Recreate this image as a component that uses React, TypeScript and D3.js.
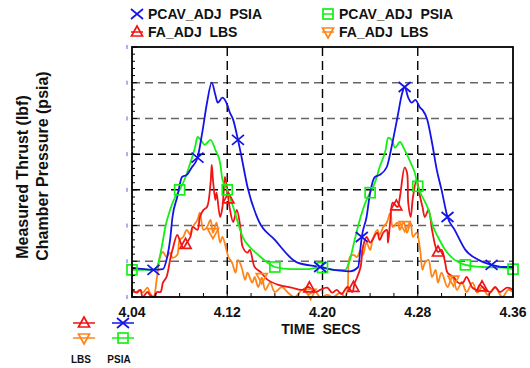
import React from "react";
import * as d3 from "d3";

type Pt = [number, number];

// [time (s), value]
const pcavBlue: Pt[] = [
  [4.04, 41], [4.058, 38], [4.066, 39], [4.069, 52], [4.072, 80], [4.074, 112], [4.078, 140],
  [4.082, 168], [4.086, 171], [4.09, 181], [4.095, 195], [4.099, 230], [4.103, 272], [4.107, 300],
  [4.11, 283], [4.112, 272], [4.116, 279], [4.12, 269], [4.122, 259], [4.125, 248], [4.129, 220],
  [4.132, 196], [4.137, 154], [4.146, 108], [4.16, 80], [4.179, 48], [4.198, 42], [4.206, 39],
  [4.223, 36], [4.23, 42], [4.232, 70], [4.233, 84], [4.237, 112], [4.24, 146], [4.244, 168],
  [4.248, 171], [4.254, 182], [4.258, 210], [4.263, 252], [4.267, 286], [4.269, 294], [4.272, 279],
  [4.275, 272], [4.278, 276], [4.282, 265], [4.284, 262], [4.288, 248], [4.292, 216], [4.296, 178],
  [4.3, 150], [4.305, 112], [4.311, 94], [4.32, 66], [4.331, 52], [4.342, 45], [4.351, 42], [4.36, 42],
];

const pcavGreen: Pt[] = [
  [4.04, 38], [4.058, 38], [4.061, 42], [4.065, 70], [4.068, 98], [4.072, 122], [4.076, 139],
  [4.08, 150], [4.085, 168], [4.089, 188], [4.093, 210], [4.095, 224], [4.099, 217], [4.101, 213],
  [4.106, 220], [4.11, 206], [4.114, 188], [4.116, 164], [4.12, 150], [4.125, 126], [4.129, 104],
  [4.133, 84], [4.139, 70], [4.146, 59], [4.154, 48], [4.16, 42], [4.174, 39], [4.188, 39],
  [4.198, 42], [4.209, 38], [4.219, 38], [4.223, 52], [4.227, 80], [4.232, 112], [4.237, 136],
  [4.24, 146], [4.244, 160], [4.248, 182], [4.253, 206], [4.255, 223], [4.258, 220], [4.261, 209],
  [4.265, 217], [4.269, 206], [4.274, 188], [4.278, 171], [4.28, 155], [4.284, 140], [4.289, 122],
  [4.293, 98], [4.297, 84], [4.303, 66], [4.311, 52], [4.32, 45], [4.334, 42], [4.351, 41], [4.36, 39],
];

const faRed: Pt[] = [
  [4.04, 11], [4.044, 6], [4.047, 10], [4.049, 0], [4.053, 7], [4.055, 3], [4.058, 0], [4.061, 7],
  [4.064, 7], [4.066, 20], [4.069, 28], [4.072, 52], [4.074, 66], [4.078, 87], [4.08, 80], [4.083, 69],
  [4.086, 76], [4.089, 84], [4.091, 98], [4.095, 94], [4.097, 112], [4.1, 122], [4.103, 126],
  [4.106, 160], [4.107, 185], [4.108, 164], [4.11, 136], [4.111, 146], [4.114, 112], [4.116, 126],
  [4.118, 168], [4.12, 150], [4.122, 125], [4.125, 105], [4.128, 122], [4.131, 98], [4.133, 70],
  [4.137, 62], [4.139, 66], [4.143, 42], [4.148, 35], [4.154, 24], [4.163, 17], [4.174, 13],
  [4.183, 10], [4.188, 14], [4.194, 7], [4.198, 10], [4.204, 13], [4.208, 6], [4.212, 10], [4.216, 4],
  [4.221, 14], [4.225, 7], [4.227, 20], [4.229, 27], [4.232, 42], [4.234, 70], [4.237, 84], [4.24, 76],
  [4.242, 80], [4.246, 90], [4.248, 80], [4.251, 90], [4.254, 94], [4.255, 76], [4.257, 108],
  [4.259, 132], [4.263, 126], [4.265, 140], [4.269, 181], [4.271, 174], [4.272, 132], [4.274, 112],
  [4.276, 140], [4.279, 164], [4.282, 140], [4.284, 126], [4.286, 112], [4.289, 122], [4.292, 94],
  [4.295, 70], [4.297, 63], [4.3, 66], [4.303, 48], [4.305, 34], [4.31, 28], [4.314, 20], [4.318, 20],
  [4.321, 28], [4.326, 13], [4.33, 10], [4.332, 17], [4.337, 10], [4.341, 7], [4.345, 14], [4.349, 7],
  [4.355, 13], [4.36, 10],
];

const faOrange: Pt[] = [
  [4.04, 7], [4.043, 7], [4.047, 10], [4.049, 6], [4.053, 13], [4.055, 6], [4.058, 0], [4.061, 28],
  [4.064, 59], [4.066, 63], [4.069, 56], [4.072, 62], [4.074, 55], [4.078, 59], [4.08, 80], [4.083, 84],
  [4.086, 94], [4.089, 87], [4.091, 98], [4.095, 108], [4.097, 118], [4.1, 94], [4.103, 98], [4.106, 108],
  [4.108, 90], [4.111, 104], [4.114, 76], [4.116, 84], [4.121, 56], [4.124, 48], [4.127, 34],
  [4.129, 52], [4.132, 42], [4.135, 24], [4.137, 34], [4.141, 20], [4.143, 28], [4.146, 14],
  [4.149, 27], [4.152, 10], [4.156, 20], [4.16, 7], [4.166, 14], [4.171, 6], [4.177, 0], [4.183, 10],
  [4.188, 4], [4.194, 7], [4.198, 0], [4.204, 3], [4.209, 0], [4.215, 6], [4.219, 0], [4.221, 10],
  [4.223, 56], [4.226, 59], [4.229, 56], [4.232, 66], [4.234, 59], [4.237, 76], [4.24, 66], [4.242, 80],
  [4.246, 94], [4.248, 87], [4.251, 98], [4.254, 104], [4.257, 118], [4.259, 98], [4.263, 104],
  [4.265, 94], [4.268, 105], [4.271, 90], [4.274, 104], [4.276, 84], [4.279, 90], [4.282, 66],
  [4.284, 38], [4.286, 48], [4.289, 52], [4.292, 28], [4.295, 38], [4.297, 20], [4.3, 34], [4.305, 14],
  [4.309, 28], [4.313, 10], [4.317, 21], [4.321, 7], [4.326, 20], [4.33, 6], [4.334, 14], [4.339, 3],
  [4.345, 13], [4.351, 0], [4.356, 10], [4.36, 7],
];

// times where the symbols sit on each trace
const blueMarks = [4.058, 4.095, 4.129, 4.198, 4.233, 4.269, 4.305, 4.342];
const greenMarks = [4.04, 4.08, 4.12, 4.16, 4.2, 4.24, 4.28, 4.32, 4.36];
const redMarks = [4.085, 4.121, 4.189, 4.226, 4.262, 4.297, 4.334];
const orangeMarks = [4.108, 4.149, 4.19, 4.269, 4.31];

const xTickLabels = [4.04, 4.12, 4.2, 4.28, 4.36];
const gridValues = [50, 100, 150, 200, 250, 300];
const darkGrid = [150, 200];

const BLUE = "#1414e6";
const GREEN = "#14f014";
const RED = "#f01414";
const ORANGE = "#ff8418";
const FONT = "'Liberation Sans', Arial, sans-serif";

const W = 530;
const H = 368;
const margin = { top: 47, right: 17, bottom: 71, left: 132 };

function valueAt(series: Pt[], t: number) {
  const i = d3.bisector((d: Pt) => d[0]).left(series, t);
  if (i <= 0) return series[0][1];
  if (i >= series.length) return series[series.length - 1][1];
  const a = series[i - 1];
  const b = series[i];
  return a[1] + ((t - a[0]) / (b[0] - a[0])) * (b[1] - a[1]);
}

function Marker({ kind, x, y, color }: { kind: string; x: number; y: number; color: string }) {
  const s = 5;
  if (kind === "x")
    return (
      <path d={`M${x - 6},${y - 5}L${x + 6},${y + 5}M${x - 6},${y + 5}L${x + 6},${y - 5}`} stroke={color} strokeWidth={1.7} fill="none" />
    );
  if (kind === "square")
    return <rect x={x - s} y={y - s} width={2 * s} height={2 * s} stroke={color} strokeWidth={1.7} fill="none" />;
  if (kind === "up")
    return <path d={`M${x},${y - 6}L${x + 5.5},${y + 4}L${x - 5.5},${y + 4}Z`} stroke={color} strokeWidth={1.7} fill="none" />;
  return <path d={`M${x},${y + 6}L${x + 5.5},${y - 4}L${x - 5.5},${y - 4}Z`} stroke={color} strokeWidth={1.7} fill="none" />;
}

export default function App() {
  const x = d3.scaleLinear().domain([4.04, 4.36]).range([margin.left, W - margin.right]);
  const y = d3.scaleLinear().domain([0, 350]).range([H - margin.bottom, margin.top]);
  const x0 = margin.left;
  const x1 = W - margin.right;
  const y0 = H - margin.bottom;
  const y1 = margin.top;

  const smooth = d3.line<Pt>().x((d) => x(d[0])).y((d) => y(d[1])).curve(d3.curveMonotoneX);
  const wiggle = d3.line<Pt>().x((d) => x(d[0])).y((d) => y(d[1])).curve(d3.curveCatmullRom.alpha(0.5));

  const series = [
    { data: faOrange, color: ORANGE, kind: "down", marks: orangeMarks, gen: wiggle },
    { data: faRed, color: RED, kind: "up", marks: redMarks, gen: wiggle },
    { data: pcavGreen, color: GREEN, kind: "square", marks: greenMarks, gen: smooth },
    { data: pcavBlue, color: BLUE, kind: "x", marks: blueMarks, gen: smooth },
  ];

  const xMinor = d3.range(4.04, 4.3601, 0.02);
  const yMinor = d3.range(0, 351, 10);

  const legendTop = [
    { label: "PCAV_ADJ  PSIA", color: BLUE, kind: "x", lx: 137, ly: 14 },
    { label: "PCAV_ADJ  PSIA", color: GREEN, kind: "square", lx: 328, ly: 14 },
    { label: "FA_ADJ  LBS", color: RED, kind: "up", lx: 137, ly: 32 },
    { label: "FA_ADJ  LBS", color: ORANGE, kind: "down", lx: 328, ly: 32 },
  ];

  return (
    <svg width={W} height={H} style={{ position: "absolute", left: 0, top: 0, background: "#fff" }} fontFamily={FONT}>
      <defs>
        <clipPath id="plot-clip">
          <rect x={x0} y={y1} width={x1 - x0} height={y0 - y1 + 2} />
        </clipPath>
      </defs>

      {/* grid */}
      {gridValues.map((v) => (
        <line
          key={"h" + v}
          x1={x0}
          x2={x1}
          y1={y(v)}
          y2={y(v)}
          stroke={darkGrid.includes(v) ? "#000" : "#666"}
          strokeWidth={1.5}
          strokeDasharray="8,5"
        />
      ))}
      {xTickLabels.slice(1, -1).map((t) => (
        <line key={"v" + t} x1={x(t)} x2={x(t)} y1={y1} y2={y0} stroke="#000" strokeWidth={1.4} strokeDasharray="9,5" />
      ))}

      {/* small blue marks left of the axis */}
      {[0, ...gridValues, 350].map((v) => (
        <line key={"b" + v} x1={127} x2={127} y1={y(v) - 2} y2={y(v) + 2} stroke="#5566dd" strokeWidth={1} />
      ))}

      {/* traces */}
      <g clipPath="url(#plot-clip)">
        {series.map((s, i) => (
          <path key={i} d={s.gen(s.data) || ""} fill="none" stroke={s.color} strokeWidth={1.8} />
        ))}
      </g>
      {series.map((s, i) => (
        <g key={"m" + i}>
          {s.marks.map((t) => (
            <Marker key={t} kind={s.kind} x={x(t)} y={y(valueAt(s.data, t))} color={s.color} />
          ))}
        </g>
      ))}

      {/* frame and ticks */}
      <rect x={x0} y={y1} width={x1 - x0} height={y0 - y1} fill="none" stroke="#000" strokeWidth={1.8} />
      {xMinor.map((t, i) => (
        <line key={"xt" + i} x1={x(t)} x2={x(t)} y1={y0} y2={y0 - (i % 4 === 0 ? 6 : 4)} stroke="#000" strokeWidth={1} />
      ))}
      {yMinor.map((v) => (
        <line key={"yt" + v} x1={x0} x2={x0 + (v % 50 === 0 ? 5 : 3)} y1={y(v)} y2={y(v)} stroke="#000" strokeWidth={1} />
      ))}

      {/* x tick labels */}
      {xTickLabels.map((t) => (
        <text key={"l" + t} x={x(t)} y={317} textAnchor="middle" fontSize={14} fontWeight="bold" fill="#111">
          {t.toFixed(2)}
        </text>
      ))}
      <text x={321} y={334} textAnchor="middle" fontSize={14} fontWeight="bold" fill="#111" style={{ whiteSpace: "pre" }}>
        {"TIME  SECS"}
      </text>

      {/* y labels */}
      <text transform="translate(28,177) rotate(-90)" textAnchor="middle" fontSize={16} fontWeight="bold" fill="#111">
        Measured Thrust (lbf)
      </text>
      <text transform="translate(47.5,166) rotate(-90)" textAnchor="middle" fontSize={16} fontWeight="bold" fill="#111">
        Chamber Pressure (psia)
      </text>

      {/* top legend */}
      {legendTop.map((l, i) => (
        <g key={"lg" + i}>
          {l.kind !== "x" && <line x1={l.lx - 6} x2={l.lx + 6} y1={l.ly} y2={l.ly} stroke={l.color} strokeWidth={1.5} />}
          <Marker kind={l.kind} x={l.lx} y={l.ly} color={l.color} />
          <text x={l.lx + 11} y={l.ly + 5} fontSize={14} fontWeight="bold" fill="#111" style={{ whiteSpace: "pre" }}>
            {l.label}
          </text>
        </g>
      ))}

      {/* bottom-left legend */}
      {[
        { kind: "up", color: RED, lx: 84, ly: 323 },
        { kind: "down", color: ORANGE, lx: 84, ly: 338 },
        { kind: "x", color: BLUE, lx: 123, ly: 323 },
        { kind: "square", color: GREEN, lx: 123, ly: 338 },
      ].map((l, i) => (
        <g key={"bl" + i}>
          <line x1={l.lx - 11} x2={l.lx + 11} y1={l.ly} y2={l.ly} stroke={l.color} strokeWidth={1.5} />
          <Marker kind={l.kind} x={l.lx} y={l.ly} color={l.color} />
        </g>
      ))}
      <text x={81} y={363} textAnchor="middle" fontSize={10} fontWeight="bold" fill="#111">LBS</text>
      <text x={119} y={363} textAnchor="middle" fontSize={10} fontWeight="bold" fill="#111">PSIA</text>
    </svg>
  );
}
